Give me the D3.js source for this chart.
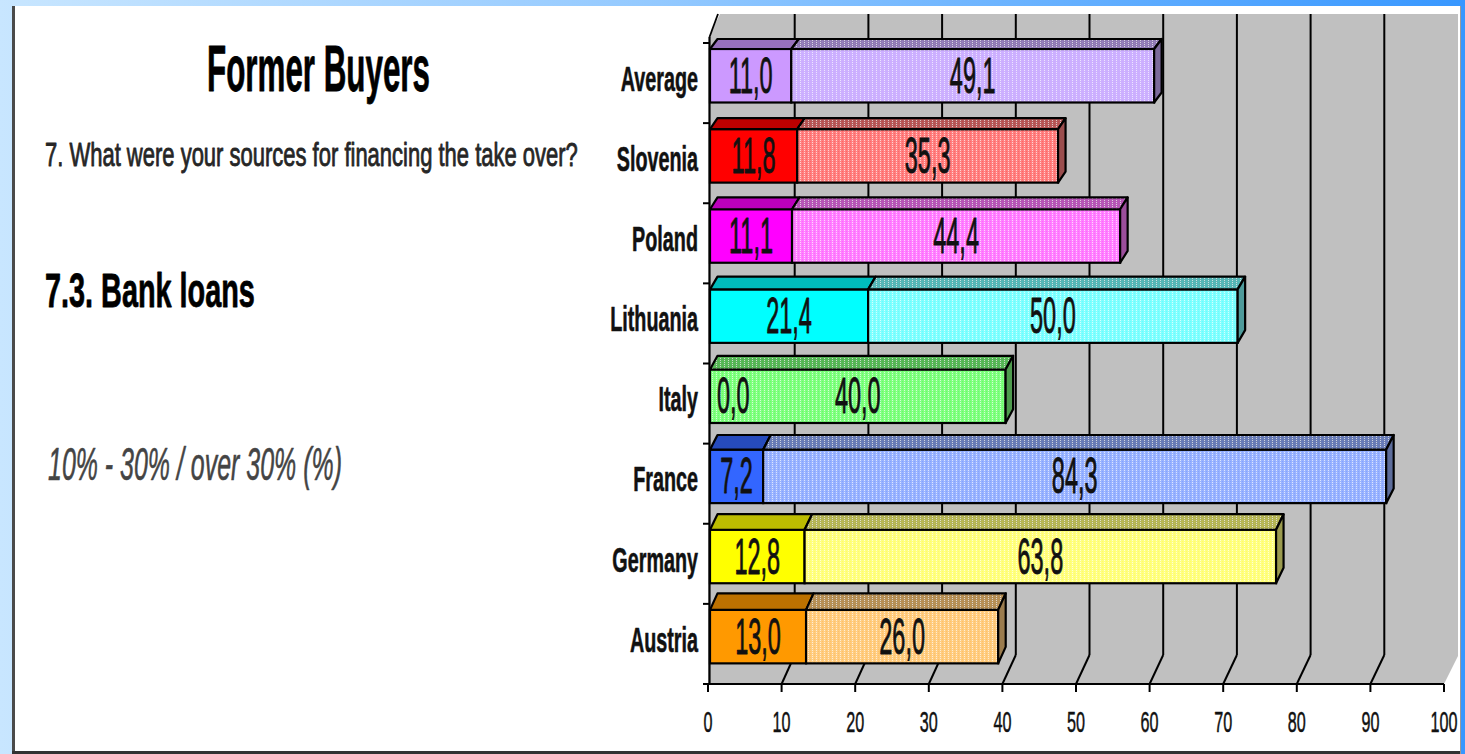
<!DOCTYPE html>
<html>
<head>
<meta charset="utf-8">
<script src="https://cdn.jsdelivr.net/npm/d3@7"></script>
<style>
  html, body { margin: 0; padding: 0; overflow: hidden; background: #fff; }
  text { font-family: "Liberation Sans", Arial, sans-serif; }
</style>
</head>
<body>
<svg id="chart" width="1465" height="754"></svg>
<script>
// Bank loans as a share of take-over financing, former buyers by country
const categories   = ["Average", "Slovenia", "Poland", "Lithuania", "Italy", "France", "Germany", "Austria"];
const share10to30  = [11.0, 11.8, 11.1, 21.4, 0.0, 7.2, 12.8, 13.0];
const shareOver30  = [49.1, 35.3, 44.4, 50.0, 40.0, 84.3, 63.8, 26.0];
const axisTicks    = [0, 10, 20, 30, 40, 50, 60, 70, 80, 90, 100];
const solidColors  = ["#cc99ff", "#ff0000", "#ff00ff", "#00ffff", "#00ff00", "#3366ff", "#ffff00", "#ff9900"];
const lightColors  = ["#ccb0ff", "#ff8080", "#ff80ff", "#80ffff", "#80ff80", "#99b3ff", "#ffff80", "#ffcc80"];

const W = 1465, H = 754;
const svg = d3.select("#chart");
const defs = svg.append("defs");

// page frame: blue gradient behind a white slide
const bg = defs.append("linearGradient").attr("id", "frameGrad")
  .attr("x1", "0").attr("y1", "0").attr("x2", "1").attr("y2", "0");
bg.append("stop").attr("offset", "0").attr("stop-color", "#c8e6ff");
bg.append("stop").attr("offset", "0.45").attr("stop-color", "#93c9ff");
bg.append("stop").attr("offset", "1").attr("stop-color", "#3797ff");
svg.append("rect").attr("width", W).attr("height", H).attr("fill", "url(#frameGrad)");
svg.append("rect").attr("x", 12).attr("y", 6).attr("width", 1449).attr("height", 748).attr("fill", "#fff");
svg.append("line").attr("x1", 13.5).attr("x2", 13.5).attr("y1", 6).attr("y2", 754)
  .attr("stroke", "#4a4a4a").attr("stroke-width", 3);
svg.append("line").attr("x1", 12).attr("x2", 1461).attr("y1", 752.5).attr("y2", 752.5)
  .attr("stroke", "#333").attr("stroke-width", 3);
svg.append("line").attr("x1", 1460.5).attr("x2", 1460.5).attr("y1", 6).attr("y2", 754)
  .attr("stroke", "#9a9a9a").attr("stroke-width", 1);

// condensed text helper: scales glyphs horizontally, optional outline to thicken strokes
function label(g, txt, o) {
  const t = g.append("text")
    .attr("text-anchor", o.anchor || "start")
    .attr("font-size", o.size)
    .attr("font-weight", o.weight || "normal")
    .attr("font-style", o.style || "normal")
    .attr("fill", o.fill || "#000")
    .text(txt);
  if (o.thick) t.attr("stroke", o.fill || "#000").attr("stroke-width", o.thick).attr("stroke-linejoin", "round");
  let sx = o.sx;
  if (o.width) sx = o.width / t.node().getComputedTextLength();
  t.attr("transform", `translate(${o.x},${o.y}) scale(${sx},1)`);
  return t;
}

// left-hand headings
const head = svg.append("g");
label(head, "Former Buyers", { x: 318.5, y: 91, size: 64, weight: "bold", anchor: "middle", width: 223, thick: 0.8 });
label(head, "7. What were your sources for financing the take over?", { x: 45, y: 166, size: 34, fill: "#262626", width: 533, thick: 0.9 });
label(head, "7.3. Bank loans", { x: 45, y: 307, size: 49, weight: "bold", width: 210, thick: 0.8 });
label(head, "10% - 30% / over 30% (%)", { x: 48, y: 480, size: 46, style: "italic", fill: "#444", width: 294, thick: 0.6 });

// scales: front plane for axis, back wall for gridlines, bar front faces
const xFront = d3.scaleLinear().domain([0, 100]).range([708, 1444]);
const xBack  = d3.scaleLinear().domain([0, 100]).range([721, 1458]);
const xBar   = d3.scaleLinear().domain([0, 100]).range([710, 1449]);
const yBand  = d3.scaleBand().domain(categories).range([43, 684]);
const depthY = d3.scaleLinear().domain([0, categories.length - 1]).range([10, 16.5]);
const depthX = 7.5;
const floorY = 684, floorBackY = 655, wallTop = 14;

const chart = svg.append("g");

// walls and floor
chart.append("path")
  .attr("d", `M709,37 L720,${wallTop} L${xBack(100)},${wallTop} L${xBack(100)},${floorBackY + 1} L${xFront(100)},${floorY} L${xFront(0)},${floorY} Z`)
  .attr("fill", "#c0c0c0");

const inner = axisTicks.filter(v => v > 0 && v < 100);
// gridlines on the back wall
chart.selectAll(".grid").data(inner).join("line")
  .attr("x1", d => xBack(d)).attr("x2", d => xBack(d))
  .attr("y1", floorBackY).attr("y2", wallTop)
  .attr("stroke", "#000").attr("stroke-width", 2);
// slanted floor lines
chart.selectAll(".floor").data(inner).join("line")
  .attr("x1", d => xFront(d)).attr("x2", d => xBack(d))
  .attr("y1", floorY).attr("y2", floorBackY)
  .attr("stroke", "#000").attr("stroke-width", 2);

// patterns for the "over 30%" segments
function dotted(id, base, light, dark, darkOpacity) {
  const p = defs.append("pattern").attr("id", id).attr("patternUnits", "userSpaceOnUse")
    .attr("width", 4).attr("height", 4);
  p.append("rect").attr("width", 4).attr("height", 4).attr("fill", base);
  [[0, 0], [0, 2], [2, 1], [2, 3]].forEach(([x, y], k) => {
    p.append("rect").attr("x", x).attr("y", y).attr("width", 1).attr("height", 1)
      .attr("fill", k < 2 ? light : dark).attr("fill-opacity", k < 2 ? 0.65 : darkOpacity);
  });
}
categories.forEach((c, i) => {
  dotted(`front${i}`, lightColors[i], "#ffffff", solidColors[i], 0.2);
  dotted(`top${i}`, d3.rgb(lightColors[i]).darker(1.0).formatHex(), "#ffffff", solidColors[i], 0.2);
});

const fmt = v => d3.format(".1f")(v).replace(".", ",");
const edge = { stroke: "#000", width: 2.2 };

// stacked 3-D bars
categories.forEach((c, i) => {
  const g = chart.append("g");
  const top = yBand(c) + 6, bot = yBand(c) + 59.5;
  const dy = depthY(i);
  const segs = [
    { s: 0, e: share10to30[i], v: share10to30[i], front: solidColors[i],
      top: d3.rgb(solidColors[i]).darker(0.85).formatHex(), side: d3.rgb(solidColors[i]).darker(1.2).formatHex() },
    { s: share10to30[i], e: share10to30[i] + shareOver30[i], v: shareOver30[i], front: `url(#front${i})`,
      top: `url(#top${i})`, side: d3.rgb(lightColors[i]).darker(1.4).formatHex() }
  ];
  segs.forEach((sg, k) => {
    const x0 = xBar(sg.s), x1 = xBar(sg.e);
    if (x1 - x0 > 0.1) {
      g.append("rect").attr("x", x0).attr("y", top).attr("width", x1 - x0).attr("height", bot - top)
        .attr("fill", sg.front).attr("stroke", edge.stroke).attr("stroke-width", edge.width);
      g.append("path")
        .attr("d", `M${x0},${top} L${x1},${top} L${x1 + depthX},${top - dy} L${x0 + depthX},${top - dy} Z`)
        .attr("fill", sg.top).attr("stroke", edge.stroke).attr("stroke-width", edge.width).attr("stroke-linejoin", "round");
      if (k === segs.length - 1) {
        g.append("path")
          .attr("d", `M${x1},${top} L${x1 + depthX},${top - dy} L${x1 + depthX},${bot - dy} L${x1},${bot} Z`)
          .attr("fill", sg.side).attr("stroke", edge.stroke).attr("stroke-width", edge.width).attr("stroke-linejoin", "round");
      }
    }
  });
  // value labels
  const cy = (top + bot) / 2 + 17;
  segs.forEach(sg => {
    const x0 = xBar(sg.s), x1 = xBar(sg.e);
    const narrow = x1 - x0 < 30;
    label(g, fmt(sg.v), {
      x: narrow ? x0 + 7 : (x0 + x1) / 2, y: cy, size: 50, sx: 0.47,
      anchor: narrow ? "start" : "middle", fill: "#111", thick: 0.9
    });
  });
  // category label
  label(g, c, { x: 698, y: (top + bot) / 2 + 15, size: 35, sx: 0.565, weight: "bold", anchor: "end", fill: "#111", thick: 0.6 });
});

// axes
const ax = svg.append("g");
ax.append("line").attr("x1", 709.5).attr("x2", 709.5).attr("y1", 37).attr("y2", floorY)
  .attr("stroke", "#000").attr("stroke-width", 2.2);
ax.append("line").attr("x1", 709.5).attr("y1", 37).attr("x2", 718).attr("y2", wallTop)
  .attr("stroke", "#000").attr("stroke-width", 1.8);
const bounds = categories.map(c => yBand(c)).concat([yBand.range()[1]]);
ax.selectAll(".ctick").data(bounds).join("line")
  .attr("x1", 703).attr("x2", 710).attr("y1", d => d).attr("y2", d => d)
  .attr("stroke", "#000").attr("stroke-width", 2);
ax.append("line").attr("x1", xFront(0)).attr("x2", xFront(100)).attr("y1", floorY).attr("y2", floorY)
  .attr("stroke", "#000").attr("stroke-width", 2.2);
ax.selectAll(".xtick").data(axisTicks).join("line")
  .attr("x1", d => xFront(d)).attr("x2", d => xFront(d)).attr("y1", floorY).attr("y2", floorY + 8)
  .attr("stroke", "#000").attr("stroke-width", 2);
axisTicks.forEach(v => {
  label(ax, String(v), { x: xFront(v), y: 731.5, size: 30, sx: 0.54, anchor: "middle", fill: "#111", thick: 0.5 });
});
</script>
</body>
</html>
